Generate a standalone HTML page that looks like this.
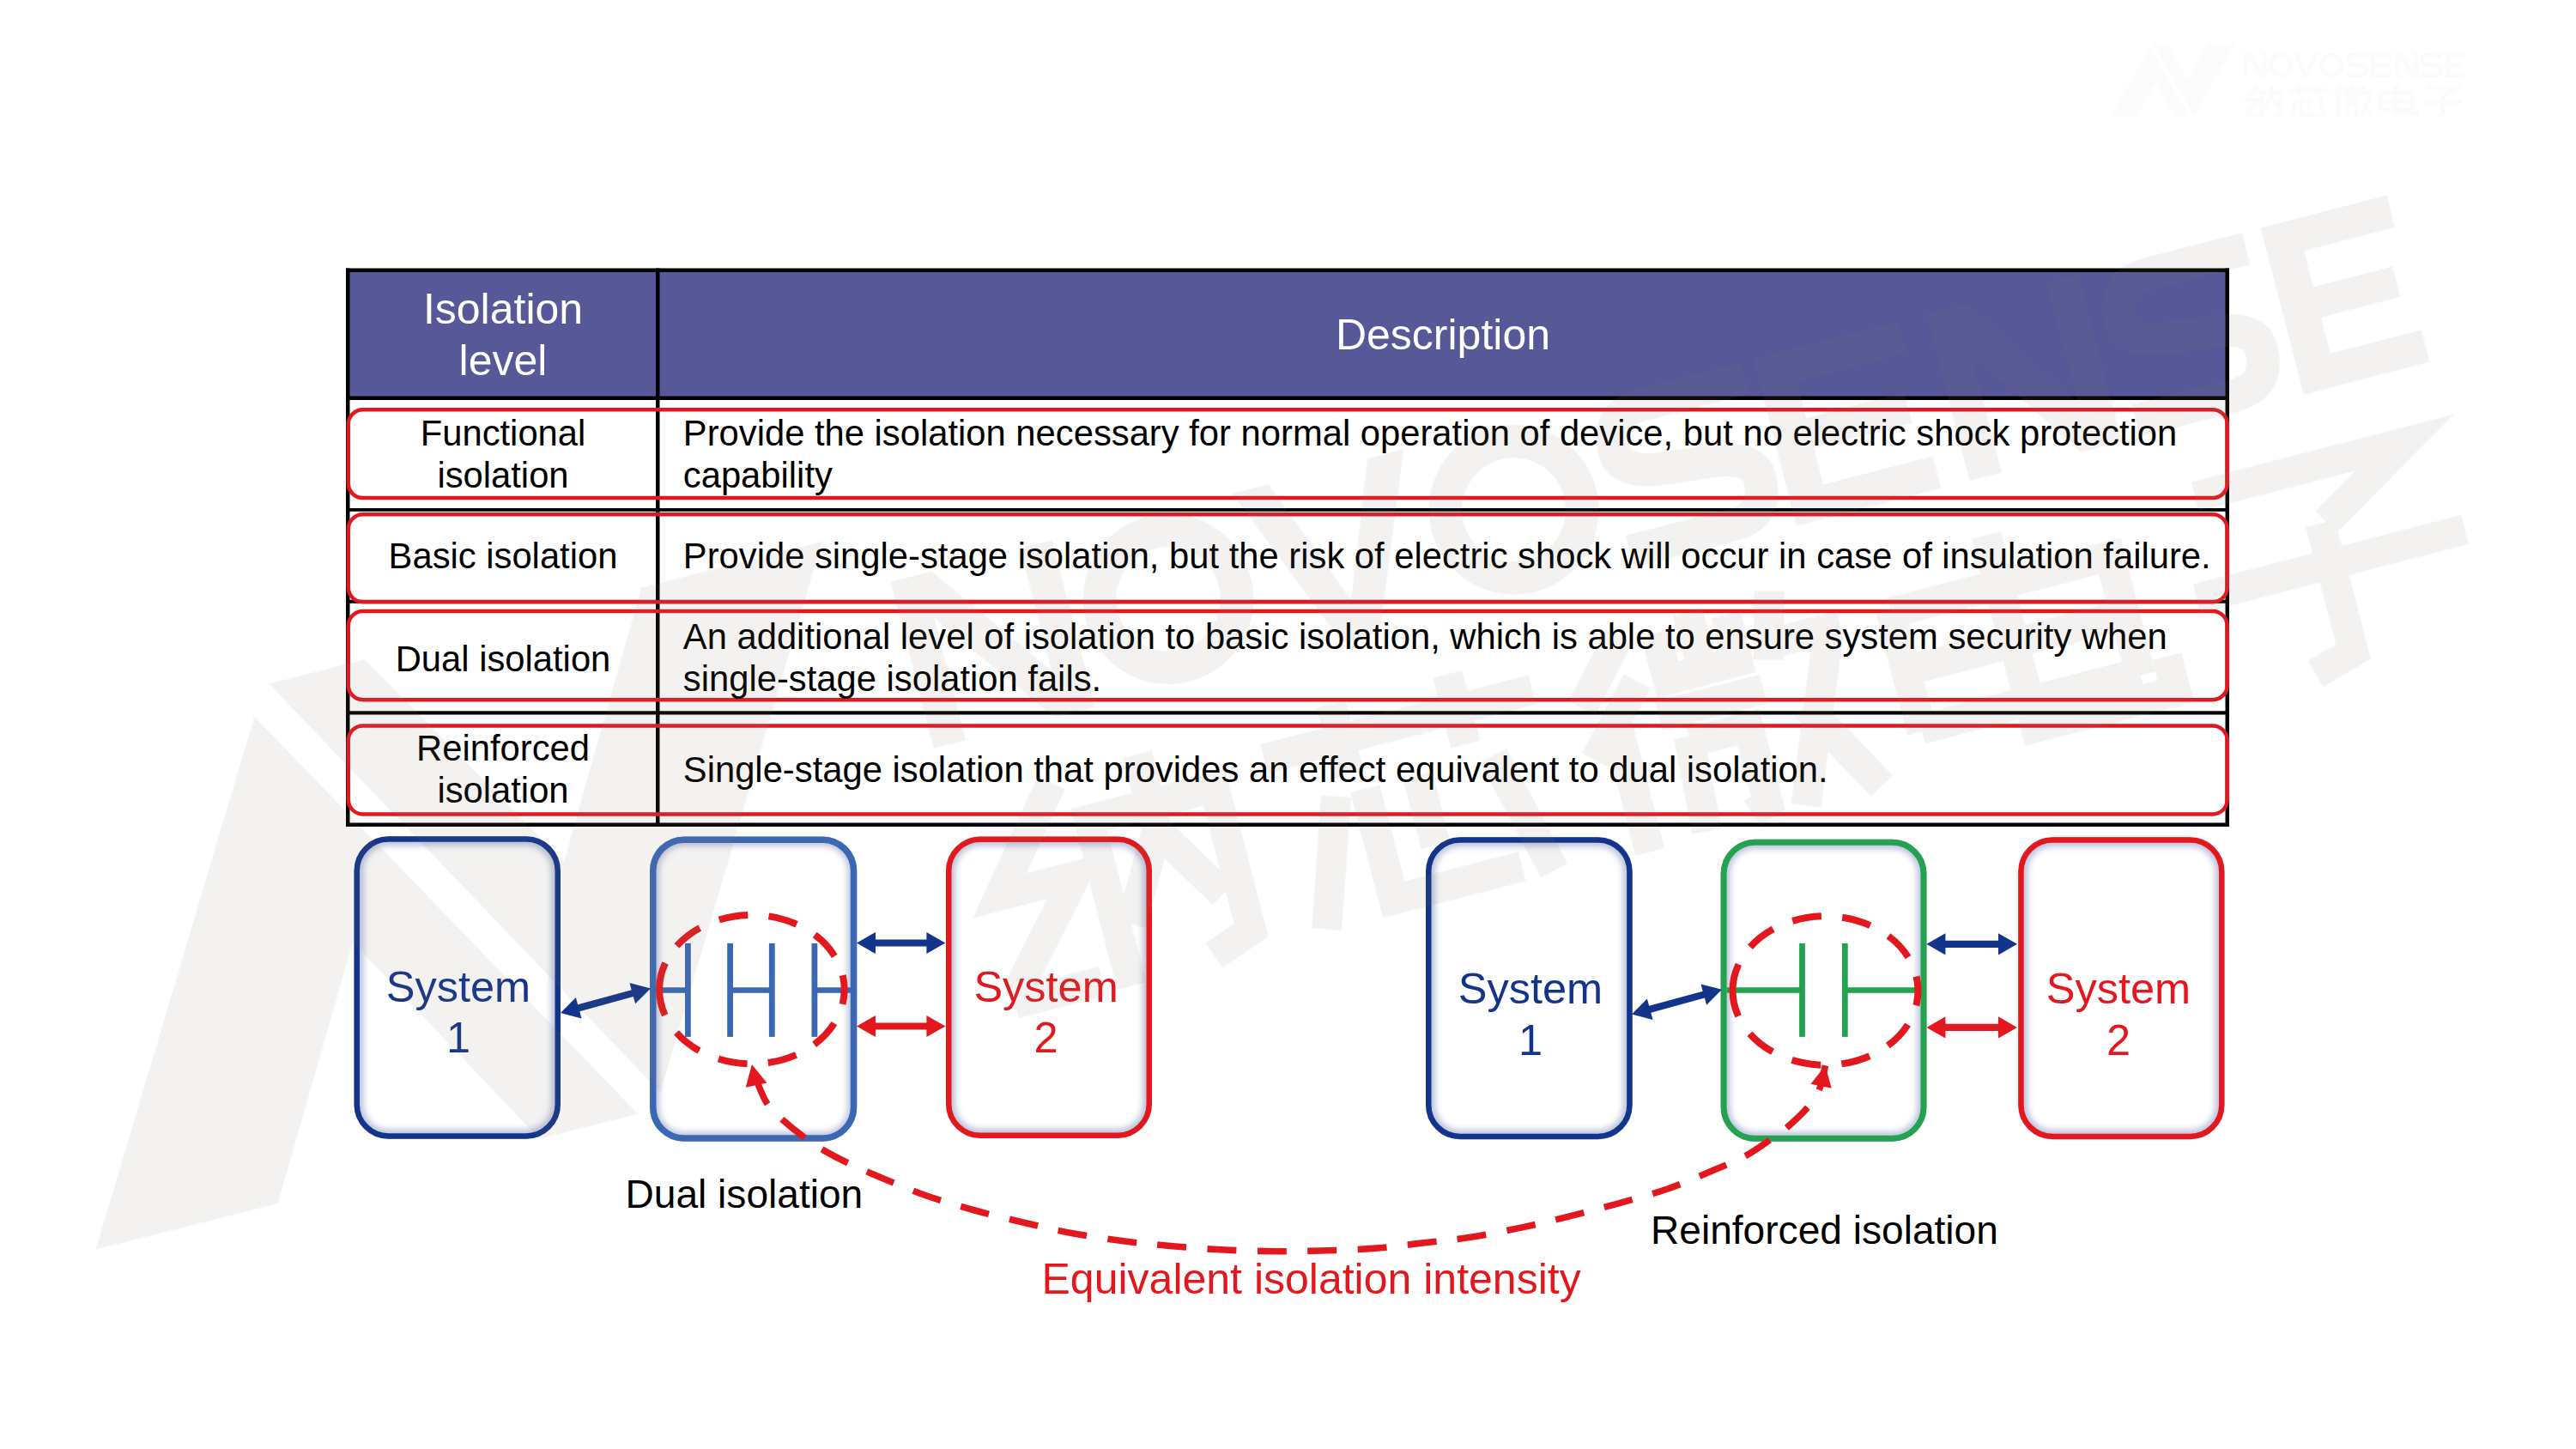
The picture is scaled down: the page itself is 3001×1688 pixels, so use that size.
<!DOCTYPE html><html><head><meta charset="utf-8"><style>html,body{margin:0;padding:0;background:#fff;width:3001px;height:1688px;overflow:hidden}svg{position:absolute;left:0;top:0}text{font-family:"Liberation Sans",sans-serif}</style></head><body>
<svg width="3001" height="1688" viewBox="0 0 3001 1688">
<defs><filter id="blur" x="-10%" y="-10%" width="120%" height="120%"><feGaussianBlur stdDeviation="3.5"/></filter></defs>
<rect x="407" y="316" width="2186" height="146" fill="#565898"/>
<rect x="403" y="312.5" width="2194" height="4.5" fill="#000"/>
<rect x="403" y="958.5" width="2194" height="4.5" fill="#000"/>
<rect x="403" y="461.5" width="2194" height="4.5" fill="#000"/>
<rect x="403" y="592" width="2194" height="3.8" fill="#000"/>
<rect x="403" y="698.8" width="2194" height="4" fill="#000"/>
<rect x="403" y="828.3" width="2194" height="4.2" fill="#000"/>
<rect x="403" y="312.5" width="4.5" height="650.5" fill="#000"/>
<rect x="2592.5" y="312.5" width="4.5" height="650.5" fill="#000"/>
<rect x="764" y="312.5" width="4.5" height="650.5" fill="#000"/>
<rect x="405.75" y="477.25" width="2189.00" height="102.80" rx="17" ry="17" fill="none" stroke="#e3181e" stroke-width="4.5"/>
<rect x="405.75" y="599.25" width="2189.00" height="102.00" rx="17" ry="17" fill="none" stroke="#e3181e" stroke-width="4.5"/>
<rect x="405.75" y="712.05" width="2189.00" height="103.10" rx="17" ry="17" fill="none" stroke="#e3181e" stroke-width="4.5"/>
<rect x="405.75" y="845.55" width="2189.00" height="102.90" rx="17" ry="17" fill="none" stroke="#e3181e" stroke-width="4.5"/>
<text x="586.0" y="377.0" font-size="50.00" fill="#fff" text-anchor="middle">Isolation</text>
<text x="586.0" y="436.9" font-size="50.00" fill="#fff" text-anchor="middle">level</text>
<text x="1681.0" y="407.0" font-size="50.00" fill="#fff" text-anchor="middle">Description</text>
<text x="586.0" y="518.5" font-size="41.75" fill="#000" text-anchor="middle">Functional</text>
<text x="586.0" y="568.0" font-size="41.75" fill="#000" text-anchor="middle">isolation</text>
<text x="586.0" y="662.0" font-size="41.75" fill="#000" text-anchor="middle">Basic isolation</text>
<text x="586.0" y="781.5" font-size="41.75" fill="#000" text-anchor="middle">Dual isolation</text>
<text x="586.0" y="885.9" font-size="41.75" fill="#000" text-anchor="middle">Reinforced</text>
<text x="586.0" y="935.3" font-size="41.75" fill="#000" text-anchor="middle">isolation</text>
<text x="795.8" y="519.0" font-size="41.75" fill="#000" text-anchor="start">Provide the isolation necessary for normal operation of device, but no electric shock protection</text>
<text x="795.8" y="568.0" font-size="41.75" fill="#000" text-anchor="start">capability</text>
<text x="795.8" y="662.0" font-size="41.75" fill="#000" text-anchor="start">Provide single-stage isolation, but the risk of electric shock will occur in case of insulation failure.</text>
<text x="795.8" y="755.7" font-size="41.75" fill="#000" text-anchor="start">An additional level of isolation to basic isolation, which is able to ensure system security when</text>
<text x="795.8" y="805.4" font-size="41.75" fill="#000" text-anchor="start">single-stage isolation fails.</text>
<text x="795.8" y="910.5" font-size="41.75" fill="#000" text-anchor="start">Single-stage isolation that provides an effect equivalent to dual isolation.</text>
<clipPath id="cb0"><rect x="412.50" y="974.30" width="240.50" height="352.40" rx="40"/></clipPath>
<g clip-path="url(#cb0)"><rect x="412.50" y="974.30" width="240.50" height="352.40" rx="40" fill="none" stroke="#7888b8" stroke-opacity="0.5" stroke-width="22" filter="url(#blur)"/></g>
<rect x="415.75" y="977.55" width="234.00" height="345.90" rx="36.8" fill="none" stroke="#12348a" stroke-width="6.5"/>
<clipPath id="cb1"><rect x="757.00" y="974.40" width="241.30" height="355.40" rx="40"/></clipPath>
<g clip-path="url(#cb1)"><rect x="757.00" y="974.40" width="241.30" height="355.40" rx="40" fill="none" stroke="#7888b8" stroke-opacity="0.5" stroke-width="22" filter="url(#blur)"/></g>
<rect x="760.75" y="978.15" width="233.80" height="347.90" rx="36.2" fill="none" stroke="#3a68b2" stroke-width="7.5"/>
<clipPath id="cb2"><rect x="1102.00" y="974.40" width="240.00" height="351.60" rx="40"/></clipPath>
<g clip-path="url(#cb2)"><rect x="1102.00" y="974.40" width="240.00" height="351.60" rx="40" fill="none" stroke="#7888b8" stroke-opacity="0.5" stroke-width="22" filter="url(#blur)"/></g>
<rect x="1105.25" y="977.65" width="233.50" height="345.10" rx="36.8" fill="none" stroke="#e3181e" stroke-width="6.5"/>
<clipPath id="cb3"><rect x="1661.00" y="975.20" width="240.70" height="352.00" rx="40"/></clipPath>
<g clip-path="url(#cb3)"><rect x="1661.00" y="975.20" width="240.70" height="352.00" rx="40" fill="none" stroke="#7888b8" stroke-opacity="0.5" stroke-width="22" filter="url(#blur)"/></g>
<rect x="1664.25" y="978.45" width="234.20" height="345.50" rx="36.8" fill="none" stroke="#12348a" stroke-width="6.5"/>
<clipPath id="cb4"><rect x="2004.60" y="977.80" width="239.90" height="352.00" rx="40"/></clipPath>
<g clip-path="url(#cb4)"><rect x="2004.60" y="977.80" width="239.90" height="352.00" rx="40" fill="none" stroke="#7888b8" stroke-opacity="0.5" stroke-width="22" filter="url(#blur)"/></g>
<rect x="2008.10" y="981.30" width="232.90" height="345.00" rx="36.5" fill="none" stroke="#23a350" stroke-width="7"/>
<clipPath id="cb5"><rect x="2351.20" y="975.20" width="240.30" height="352.00" rx="40"/></clipPath>
<g clip-path="url(#cb5)"><rect x="2351.20" y="975.20" width="240.30" height="352.00" rx="40" fill="none" stroke="#7888b8" stroke-opacity="0.5" stroke-width="22" filter="url(#blur)"/></g>
<rect x="2354.45" y="978.45" width="233.80" height="345.50" rx="36.8" fill="none" stroke="#e3181e" stroke-width="6.5"/>
<text x="534.0" y="1167.2" font-size="50.50" fill="#12348a" text-anchor="middle">System</text>
<text x="534.0" y="1226.2" font-size="50.50" fill="#12348a" text-anchor="middle">1</text>
<text x="1218.6" y="1167.2" font-size="50.50" fill="#e3181e" text-anchor="middle">System</text>
<text x="1218.6" y="1226.2" font-size="50.50" fill="#e3181e" text-anchor="middle">2</text>
<text x="1783.0" y="1168.5" font-size="50.50" fill="#12348a" text-anchor="middle">System</text>
<text x="1783.0" y="1228.8" font-size="50.50" fill="#12348a" text-anchor="middle">1</text>
<text x="2468.0" y="1168.5" font-size="50.50" fill="#e3181e" text-anchor="middle">System</text>
<text x="2468.0" y="1228.8" font-size="50.50" fill="#e3181e" text-anchor="middle">2</text>
<polygon fill="#12348a" points="653.0,1180.0 677.5,1186.4 675.3,1178.2 737.9,1161.1 740.1,1169.3 758.0,1151.4 733.5,1145.0 735.7,1153.2 673.1,1170.3 670.9,1162.1"/>
<polygon fill="#12348a" points="998.0,1098.5 1020.0,1111.1 1020.0,1102.6 1079.4,1102.6 1079.4,1111.1 1101.4,1098.5 1079.4,1085.9 1079.4,1094.4 1020.0,1094.4 1020.0,1085.9"/>
<polygon fill="#e3181e" points="998.0,1195.5 1020.0,1208.1 1020.0,1199.6 1079.4,1199.6 1079.4,1208.1 1101.4,1195.5 1079.4,1182.9 1079.4,1191.4 1020.0,1191.4 1020.0,1182.9"/>
<polygon fill="#12348a" points="1901.0,1181.6 1925.5,1187.9 1923.3,1179.7 1985.9,1162.6 1988.1,1170.8 2006.0,1152.8 1981.5,1146.5 1983.7,1154.7 1921.1,1171.8 1918.9,1163.6"/>
<polygon fill="#12348a" points="2244.4,1099.8 2266.4,1112.4 2266.4,1103.9 2328.0,1103.9 2328.0,1112.4 2350.0,1099.8 2328.0,1087.2 2328.0,1095.7 2266.4,1095.7 2266.4,1087.2"/>
<polygon fill="#e3181e" points="2244.4,1196.9 2266.4,1209.5 2266.4,1201.0 2328.0,1201.0 2328.0,1209.5 2350.0,1196.9 2328.0,1184.3 2328.0,1192.8 2266.4,1192.8 2266.4,1184.3"/>
<line x1="801.4" y1="1098.9" x2="801.4" y2="1207.9" stroke="#3a68b2" stroke-width="6.8"/>
<line x1="850.6" y1="1098.9" x2="850.6" y2="1207.9" stroke="#3a68b2" stroke-width="6.8"/>
<line x1="899.3" y1="1098.9" x2="899.3" y2="1207.9" stroke="#3a68b2" stroke-width="6.8"/>
<line x1="948.9" y1="1098.9" x2="948.9" y2="1207.9" stroke="#3a68b2" stroke-width="6.8"/>
<line x1="765.0" y1="1153.5" x2="801.4" y2="1153.5" stroke="#3a68b2" stroke-width="6.6"/>
<line x1="850.6" y1="1153.5" x2="899.3" y2="1153.5" stroke="#3a68b2" stroke-width="6.6"/>
<line x1="948.9" y1="1153.5" x2="994.0" y2="1153.5" stroke="#3a68b2" stroke-width="6.6"/>
<line x1="2099.5" y1="1098.9" x2="2099.5" y2="1207.9" stroke="#23a350" stroke-width="6.8"/>
<line x1="2149.3" y1="1098.9" x2="2149.3" y2="1207.9" stroke="#23a350" stroke-width="6.8"/>
<line x1="2011.6" y1="1153.5" x2="2099.5" y2="1153.5" stroke="#23a350" stroke-width="6.6"/>
<line x1="2149.3" y1="1153.5" x2="2238.0" y2="1153.5" stroke="#23a350" stroke-width="6.6"/>
<path d="M 768.10 1152.65 A 107.80 86.75 0 1 1 983.70 1152.65 A 107.80 86.75 0 1 1 768.10 1152.65" fill="none" stroke="#e3181e" stroke-width="8" stroke-dasharray="34.000 24.380" stroke-dashoffset="2.405"/>
<path d="M 2018.50 1154.00 A 108.00 86.75 0 1 1 2234.50 1154.00 A 108.00 86.75 0 1 1 2018.50 1154.00" fill="none" stroke="#e3181e" stroke-width="8" stroke-dasharray="34.000 24.443" stroke-dashoffset="2.389"/>
<path d="M 875.9 1239.9 C 877.2 1244.1 880.9 1257.2 884.0 1265.0 C 887.1 1272.8 889.9 1280.3 894.7 1287.0 C 899.5 1293.7 905.5 1299.0 912.7 1305.4 C 919.9 1311.8 929.9 1319.8 937.8 1325.6 C 945.7 1331.4 951.9 1335.6 960.2 1340.4 C 968.5 1345.2 976.5 1349.4 987.6 1354.7 C 998.7 1360.0 1011.4 1365.6 1026.7 1372.0 C 1042.0 1378.4 1061.3 1386.7 1079.5 1393.0 C 1097.7 1399.3 1116.3 1404.7 1135.6 1410.0 C 1154.8 1415.3 1175.8 1420.2 1195.0 1424.7 C 1214.2 1429.2 1231.8 1433.5 1251.0 1437.0 C 1270.2 1440.5 1291.2 1443.5 1310.5 1446.0 C 1329.8 1448.5 1347.2 1450.0 1366.5 1451.7 C 1385.8 1453.4 1406.2 1455.0 1426.0 1456.0 C 1445.8 1457.0 1466.7 1457.5 1485.4 1457.7 C 1504.1 1457.9 1519.0 1457.5 1538.0 1457.0 C 1557.0 1456.5 1579.3 1455.9 1599.5 1454.4 C 1619.7 1452.9 1639.8 1450.0 1659.0 1447.8 C 1678.2 1445.6 1695.8 1444.0 1715.0 1441.0 C 1734.2 1438.0 1755.2 1433.7 1774.4 1429.6 C 1793.7 1425.5 1811.8 1421.1 1830.5 1416.4 C 1849.2 1411.7 1867.9 1406.8 1886.6 1401.6 C 1905.3 1396.4 1924.5 1391.3 1942.7 1385.0 C 1960.9 1378.7 1980.4 1370.0 1995.5 1363.6 C 2010.6 1357.2 2022.3 1352.5 2033.2 1346.7 C 2044.1 1340.9 2052.9 1334.2 2061.0 1328.7 C 2069.1 1323.2 2074.4 1319.8 2081.7 1313.5 C 2089.0 1307.2 2098.7 1298.3 2105.0 1291.0 C 2111.3 1283.7 2115.7 1277.8 2119.3 1269.5 C 2122.9 1261.2 2125.3 1245.9 2126.5 1241.2" fill="none" stroke="#e3181e" stroke-width="7.6" stroke-dasharray="34 24.4" stroke-dashoffset="42.4" id="curve"/>
<polygon fill="#e3181e" points="875.9,1239.9 868.7,1266.8 893.4,1261.4"/>
<polygon fill="#e3181e" points="2126.5,1241.2 2109.5,1262.8 2133.7,1267.7"/>
<text x="728.5" y="1406.7" font-size="46.10" fill="#000" text-anchor="start">Dual isolation</text>
<text x="1923.0" y="1448.9" font-size="46.10" fill="#000" text-anchor="start">Reinforced isolation</text>
<text x="1213.5" y="1507.4" font-size="50.00" fill="#e3181e" text-anchor="start">Equivalent isolation intensity</text>
<g opacity="0.1" fill="#857f72" stroke="#857f72">
<g transform="matrix(6.792050 -1.754862 1.754862 6.792050 -16819.210 4846.530)">
<polygon stroke="none" points="2613.20,61.40 2618.70,61.40 2618.70,90.00 2613.20,90.00"/>
<polygon stroke="none" points="2635.40,61.40 2640.90,61.40 2640.90,90.00 2635.40,90.00"/>
<polygon stroke="none" points="2613.20,61.40 2620.20,61.40 2640.90,90.00 2633.90,90.00"/>
<circle cx="2657.15" cy="75.70" r="11.40" fill="none" stroke-width="5.50"/>
<polygon stroke="none" points="2671.80,61.40 2678.00,61.40 2686.50,83.50 2695.00,61.40 2701.20,61.40 2689.70,90.00 2683.30,90.00"/>
<circle cx="2716.40" cy="75.70" r="11.35" fill="none" stroke-width="5.50"/>
<path d="M 2759.00 64.15 L 2741.30 64.15 Q 2735.05 64.15 2735.05 70.65 Q 2735.05 74.20 2741.30 75.20 L 2751.00 76.20 Q 2757.25 77.20 2757.25 80.75 Q 2757.25 87.25 2751.00 87.25 L 2733.30 87.25" fill="none" stroke-width="5.50" stroke-linecap="butt" stroke-linejoin="miter"/>
<polygon stroke="none" points="2761.20,61.40 2767.20,61.40 2767.20,90.00 2761.20,90.00"/>
<polygon stroke="none" points="2761.20,61.40 2786.00,61.40 2786.00,66.90 2761.20,66.90"/>
<polygon stroke="none" points="2761.20,84.50 2786.00,84.50 2786.00,90.00 2761.20,90.00"/>
<polygon stroke="none" points="2761.20,73.10 2784.00,73.10 2784.00,78.30 2761.20,78.30"/>
<polygon stroke="none" points="2790.90,61.40 2796.40,61.40 2796.40,90.00 2790.90,90.00"/>
<polygon stroke="none" points="2811.50,61.40 2817.00,61.40 2817.00,90.00 2811.50,90.00"/>
<polygon stroke="none" points="2790.90,61.40 2797.90,61.40 2817.00,90.00 2810.00,90.00"/>
<path d="M 2845.00 64.15 L 2828.10 64.15 Q 2821.85 64.15 2821.85 70.65 Q 2821.85 74.20 2828.10 75.20 L 2837.00 76.20 Q 2843.25 77.20 2843.25 80.75 Q 2843.25 87.25 2837.00 87.25 L 2820.10 87.25" fill="none" stroke-width="5.50" stroke-linecap="butt" stroke-linejoin="miter"/>
<polygon stroke="none" points="2848.20,61.40 2854.20,61.40 2854.20,90.00 2848.20,90.00"/>
<polygon stroke="none" points="2848.20,61.40 2869.80,61.40 2869.80,66.90 2848.20,66.90"/>
<polygon stroke="none" points="2848.20,84.50 2869.80,84.50 2869.80,90.00 2848.20,90.00"/>
<polygon stroke="none" points="2848.20,73.10 2867.80,73.10 2867.80,78.30 2848.20,78.30"/>
<path d="M 2630.70 100.40 L 2617.70 116.40 L 2630.70 116.40 L 2616.70 132.40" fill="none" stroke-width="5.00" stroke-linecap="butt" stroke-linejoin="miter"/>
<path d="M 2615.70 134.40 L 2630.70 134.40" fill="none" stroke-width="5.00" stroke-linecap="butt" stroke-linejoin="miter"/>
<path d="M 2635.20 136.40 L 2635.20 107.90 L 2656.70 107.90 L 2656.70 132.40 L 2649.70 134.90" fill="none" stroke-width="5.00" stroke-linecap="butt" stroke-linejoin="miter"/>
<path d="M 2645.70 99.40 L 2645.70 112.40 L 2637.70 126.40" fill="none" stroke-width="5.00" stroke-linecap="butt" stroke-linejoin="miter"/>
<path d="M 2645.70 112.40 L 2653.70 125.40" fill="none" stroke-width="5.00" stroke-linecap="butt" stroke-linejoin="miter"/>
<path d="M 2665.90 105.40 L 2711.90 105.40" fill="none" stroke-width="5.00" stroke-linecap="butt" stroke-linejoin="miter"/>
<path d="M 2678.90 99.40 L 2678.90 111.40" fill="none" stroke-width="5.00" stroke-linecap="butt" stroke-linejoin="miter"/>
<path d="M 2698.90 99.40 L 2698.90 111.40" fill="none" stroke-width="5.00" stroke-linecap="butt" stroke-linejoin="miter"/>
<path d="M 2675.90 114.40 L 2668.90 135.40" fill="none" stroke-width="5.00" stroke-linecap="butt" stroke-linejoin="miter"/>
<path d="M 2680.90 114.40 L 2680.90 133.40 L 2702.90 133.40" fill="none" stroke-width="5.00" stroke-linecap="butt" stroke-linejoin="miter"/>
<path d="M 2689.90 114.40 L 2689.90 126.40" fill="none" stroke-width="5.00" stroke-linecap="butt" stroke-linejoin="miter"/>
<path d="M 2702.90 114.40 L 2707.90 135.40" fill="none" stroke-width="5.00" stroke-linecap="butt" stroke-linejoin="miter"/>
<path d="M 2728.10 100.40 L 2719.10 110.40" fill="none" stroke-width="5.00" stroke-linecap="butt" stroke-linejoin="miter"/>
<path d="M 2729.10 108.40 L 2719.10 119.40" fill="none" stroke-width="5.00" stroke-linecap="butt" stroke-linejoin="miter"/>
<path d="M 2724.10 115.40 L 2724.10 136.40" fill="none" stroke-width="5.00" stroke-linecap="butt" stroke-linejoin="miter"/>
<path d="M 2734.10 101.40 L 2734.10 109.40 L 2746.10 109.40 L 2746.10 101.40" fill="none" stroke-width="5.00" stroke-linecap="butt" stroke-linejoin="miter"/>
<path d="M 2740.10 99.40 L 2740.10 109.40" fill="none" stroke-width="5.00" stroke-linecap="butt" stroke-linejoin="miter"/>
<path d="M 2731.10 114.90 L 2749.10 114.90" fill="none" stroke-width="5.00" stroke-linecap="butt" stroke-linejoin="miter"/>
<path d="M 2735.10 119.40 L 2734.10 135.40" fill="none" stroke-width="5.00" stroke-linecap="butt" stroke-linejoin="miter"/>
<path d="M 2735.10 120.40 L 2745.10 120.40 L 2745.10 133.40 L 2742.10 134.40" fill="none" stroke-width="5.00" stroke-linecap="butt" stroke-linejoin="miter"/>
<path d="M 2754.10 99.40 L 2751.10 110.40" fill="none" stroke-width="5.00" stroke-linecap="butt" stroke-linejoin="miter"/>
<path d="M 2751.10 107.90 L 2764.10 107.90" fill="none" stroke-width="5.00" stroke-linecap="butt" stroke-linejoin="miter"/>
<path d="M 2762.10 107.90 L 2751.10 135.40" fill="none" stroke-width="5.00" stroke-linecap="butt" stroke-linejoin="miter"/>
<path d="M 2755.10 119.40 L 2764.10 135.40" fill="none" stroke-width="5.00" stroke-linecap="butt" stroke-linejoin="miter"/>
<path d="M 2772.80 107.40 L 2772.80 128.40" fill="none" stroke-width="5.00" stroke-linecap="butt" stroke-linejoin="miter"/>
<path d="M 2772.80 107.90 L 2810.30 107.90 L 2810.30 128.40" fill="none" stroke-width="5.00" stroke-linecap="butt" stroke-linejoin="miter"/>
<path d="M 2772.80 117.90 L 2810.30 117.90" fill="none" stroke-width="5.00" stroke-linecap="butt" stroke-linejoin="miter"/>
<path d="M 2772.80 127.90 L 2810.30 127.90" fill="none" stroke-width="5.00" stroke-linecap="butt" stroke-linejoin="miter"/>
<path d="M 2791.30 99.40 L 2791.30 132.40 L 2815.30 132.40 L 2815.30 126.40" fill="none" stroke-width="5.00" stroke-linecap="butt" stroke-linejoin="miter"/>
<path d="M 2826.50 101.90 L 2862.50 101.90 L 2846.50 111.40" fill="none" stroke-width="5.00" stroke-linecap="butt" stroke-linejoin="miter"/>
<path d="M 2822.50 118.40 L 2868.50 118.40" fill="none" stroke-width="5.00" stroke-linecap="butt" stroke-linejoin="miter"/>
<path d="M 2845.50 111.40 L 2845.50 133.40 L 2838.50 135.40" fill="none" stroke-width="5.00" stroke-linecap="butt" stroke-linejoin="miter"/>
</g>
<g transform="matrix(6.777131 -1.693163 1.693163 6.777131 -16775.978 4693.314)">
<polygon stroke="none" points="2457.80,136.30 2505.00,56.50 2551.00,136.30 2534.00,136.30 2511.80,97.00 2489.10,136.20"/>
<polygon stroke="none" points="2508.70,51.80 2525.20,51.70 2549.20,92.50 2572.80,51.30 2603.90,51.10 2555.50,133.70"/>
</g></g>
<g opacity="0.025" fill="#7a7a70" stroke="#7a7a70">
<polygon stroke="none" points="2458.40,136.50 2504.50,55.50 2550.60,136.50 2533.90,136.50 2511.50,96.70 2489.10,136.50"/>
<polygon stroke="none" points="2508.70,51.60 2525.80,51.60 2549.20,92.50 2571.60,51.60 2604.40,51.60 2555.50,133.70"/>
<polygon stroke="none" points="2613.20,61.40 2618.70,61.40 2618.70,90.00 2613.20,90.00"/>
<polygon stroke="none" points="2635.40,61.40 2640.90,61.40 2640.90,90.00 2635.40,90.00"/>
<polygon stroke="none" points="2613.20,61.40 2620.20,61.40 2640.90,90.00 2633.90,90.00"/>
<circle cx="2657.15" cy="75.70" r="11.40" fill="none" stroke-width="5.50"/>
<polygon stroke="none" points="2671.80,61.40 2678.00,61.40 2686.50,83.50 2695.00,61.40 2701.20,61.40 2689.70,90.00 2683.30,90.00"/>
<circle cx="2716.40" cy="75.70" r="11.35" fill="none" stroke-width="5.50"/>
<path d="M 2759.00 64.15 L 2741.30 64.15 Q 2735.05 64.15 2735.05 70.65 Q 2735.05 74.20 2741.30 75.20 L 2751.00 76.20 Q 2757.25 77.20 2757.25 80.75 Q 2757.25 87.25 2751.00 87.25 L 2733.30 87.25" fill="none" stroke-width="5.50" stroke-linecap="butt" stroke-linejoin="miter"/>
<polygon stroke="none" points="2761.20,61.40 2767.20,61.40 2767.20,90.00 2761.20,90.00"/>
<polygon stroke="none" points="2761.20,61.40 2786.00,61.40 2786.00,66.90 2761.20,66.90"/>
<polygon stroke="none" points="2761.20,84.50 2786.00,84.50 2786.00,90.00 2761.20,90.00"/>
<polygon stroke="none" points="2761.20,73.10 2784.00,73.10 2784.00,78.30 2761.20,78.30"/>
<polygon stroke="none" points="2790.90,61.40 2796.40,61.40 2796.40,90.00 2790.90,90.00"/>
<polygon stroke="none" points="2811.50,61.40 2817.00,61.40 2817.00,90.00 2811.50,90.00"/>
<polygon stroke="none" points="2790.90,61.40 2797.90,61.40 2817.00,90.00 2810.00,90.00"/>
<path d="M 2845.00 64.15 L 2828.10 64.15 Q 2821.85 64.15 2821.85 70.65 Q 2821.85 74.20 2828.10 75.20 L 2837.00 76.20 Q 2843.25 77.20 2843.25 80.75 Q 2843.25 87.25 2837.00 87.25 L 2820.10 87.25" fill="none" stroke-width="5.50" stroke-linecap="butt" stroke-linejoin="miter"/>
<polygon stroke="none" points="2848.20,61.40 2854.20,61.40 2854.20,90.00 2848.20,90.00"/>
<polygon stroke="none" points="2848.20,61.40 2869.80,61.40 2869.80,66.90 2848.20,66.90"/>
<polygon stroke="none" points="2848.20,84.50 2869.80,84.50 2869.80,90.00 2848.20,90.00"/>
<polygon stroke="none" points="2848.20,73.10 2867.80,73.10 2867.80,78.30 2848.20,78.30"/>
<path d="M 2630.70 100.40 L 2617.70 116.40 L 2630.70 116.40 L 2616.70 132.40" fill="none" stroke-width="5.00" stroke-linecap="butt" stroke-linejoin="miter"/>
<path d="M 2615.70 134.40 L 2630.70 134.40" fill="none" stroke-width="5.00" stroke-linecap="butt" stroke-linejoin="miter"/>
<path d="M 2635.20 136.40 L 2635.20 107.90 L 2656.70 107.90 L 2656.70 132.40 L 2649.70 134.90" fill="none" stroke-width="5.00" stroke-linecap="butt" stroke-linejoin="miter"/>
<path d="M 2645.70 99.40 L 2645.70 112.40 L 2637.70 126.40" fill="none" stroke-width="5.00" stroke-linecap="butt" stroke-linejoin="miter"/>
<path d="M 2645.70 112.40 L 2653.70 125.40" fill="none" stroke-width="5.00" stroke-linecap="butt" stroke-linejoin="miter"/>
<path d="M 2665.90 105.40 L 2711.90 105.40" fill="none" stroke-width="5.00" stroke-linecap="butt" stroke-linejoin="miter"/>
<path d="M 2678.90 99.40 L 2678.90 111.40" fill="none" stroke-width="5.00" stroke-linecap="butt" stroke-linejoin="miter"/>
<path d="M 2698.90 99.40 L 2698.90 111.40" fill="none" stroke-width="5.00" stroke-linecap="butt" stroke-linejoin="miter"/>
<path d="M 2675.90 114.40 L 2668.90 135.40" fill="none" stroke-width="5.00" stroke-linecap="butt" stroke-linejoin="miter"/>
<path d="M 2680.90 114.40 L 2680.90 133.40 L 2702.90 133.40" fill="none" stroke-width="5.00" stroke-linecap="butt" stroke-linejoin="miter"/>
<path d="M 2689.90 114.40 L 2689.90 126.40" fill="none" stroke-width="5.00" stroke-linecap="butt" stroke-linejoin="miter"/>
<path d="M 2702.90 114.40 L 2707.90 135.40" fill="none" stroke-width="5.00" stroke-linecap="butt" stroke-linejoin="miter"/>
<path d="M 2728.10 100.40 L 2719.10 110.40" fill="none" stroke-width="5.00" stroke-linecap="butt" stroke-linejoin="miter"/>
<path d="M 2729.10 108.40 L 2719.10 119.40" fill="none" stroke-width="5.00" stroke-linecap="butt" stroke-linejoin="miter"/>
<path d="M 2724.10 115.40 L 2724.10 136.40" fill="none" stroke-width="5.00" stroke-linecap="butt" stroke-linejoin="miter"/>
<path d="M 2734.10 101.40 L 2734.10 109.40 L 2746.10 109.40 L 2746.10 101.40" fill="none" stroke-width="5.00" stroke-linecap="butt" stroke-linejoin="miter"/>
<path d="M 2740.10 99.40 L 2740.10 109.40" fill="none" stroke-width="5.00" stroke-linecap="butt" stroke-linejoin="miter"/>
<path d="M 2731.10 114.90 L 2749.10 114.90" fill="none" stroke-width="5.00" stroke-linecap="butt" stroke-linejoin="miter"/>
<path d="M 2735.10 119.40 L 2734.10 135.40" fill="none" stroke-width="5.00" stroke-linecap="butt" stroke-linejoin="miter"/>
<path d="M 2735.10 120.40 L 2745.10 120.40 L 2745.10 133.40 L 2742.10 134.40" fill="none" stroke-width="5.00" stroke-linecap="butt" stroke-linejoin="miter"/>
<path d="M 2754.10 99.40 L 2751.10 110.40" fill="none" stroke-width="5.00" stroke-linecap="butt" stroke-linejoin="miter"/>
<path d="M 2751.10 107.90 L 2764.10 107.90" fill="none" stroke-width="5.00" stroke-linecap="butt" stroke-linejoin="miter"/>
<path d="M 2762.10 107.90 L 2751.10 135.40" fill="none" stroke-width="5.00" stroke-linecap="butt" stroke-linejoin="miter"/>
<path d="M 2755.10 119.40 L 2764.10 135.40" fill="none" stroke-width="5.00" stroke-linecap="butt" stroke-linejoin="miter"/>
<path d="M 2772.80 107.40 L 2772.80 128.40" fill="none" stroke-width="5.00" stroke-linecap="butt" stroke-linejoin="miter"/>
<path d="M 2772.80 107.90 L 2810.30 107.90 L 2810.30 128.40" fill="none" stroke-width="5.00" stroke-linecap="butt" stroke-linejoin="miter"/>
<path d="M 2772.80 117.90 L 2810.30 117.90" fill="none" stroke-width="5.00" stroke-linecap="butt" stroke-linejoin="miter"/>
<path d="M 2772.80 127.90 L 2810.30 127.90" fill="none" stroke-width="5.00" stroke-linecap="butt" stroke-linejoin="miter"/>
<path d="M 2791.30 99.40 L 2791.30 132.40 L 2815.30 132.40 L 2815.30 126.40" fill="none" stroke-width="5.00" stroke-linecap="butt" stroke-linejoin="miter"/>
<path d="M 2826.50 101.90 L 2862.50 101.90 L 2846.50 111.40" fill="none" stroke-width="5.00" stroke-linecap="butt" stroke-linejoin="miter"/>
<path d="M 2822.50 118.40 L 2868.50 118.40" fill="none" stroke-width="5.00" stroke-linecap="butt" stroke-linejoin="miter"/>
<path d="M 2845.50 111.40 L 2845.50 133.40 L 2838.50 135.40" fill="none" stroke-width="5.00" stroke-linecap="butt" stroke-linejoin="miter"/>
</g>
</svg></body></html>
